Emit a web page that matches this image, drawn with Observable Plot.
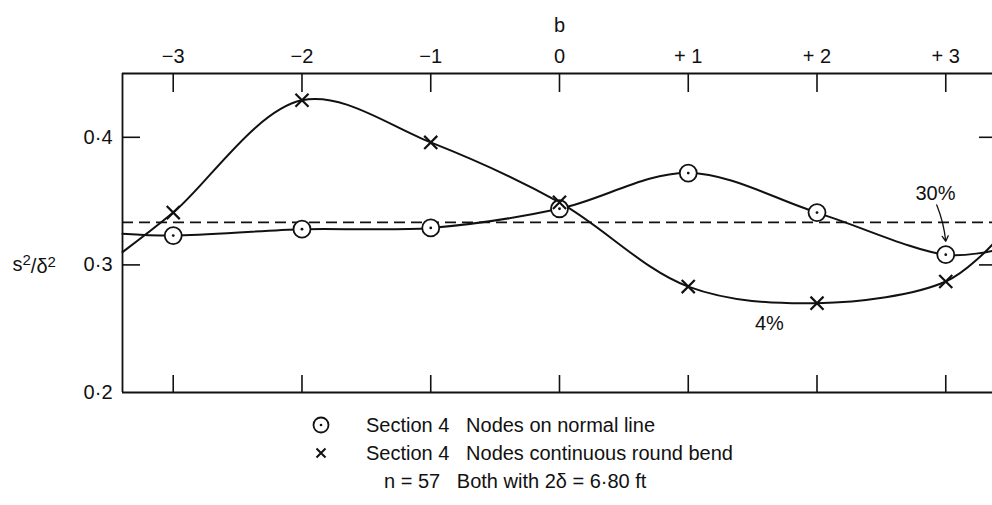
<!DOCTYPE html>
<html>
<head>
<meta charset="utf-8">
<script src="https://cdn.jsdelivr.net/npm/d3@7"></script>
<script src="https://cdn.jsdelivr.net/npm/@observablehq/plot@0.6"></script>
<style>
  body { margin: 0; background: #fff; font-family: "Liberation Sans", Arial, sans-serif; color: #111; }
  #chart { width: 992px; height: 400px; }
  #legend { position: relative; width: 992px; height: 105px; font-size: 20px; }
  #legend .sym { position: absolute; }
  #legend .txt { position: absolute; white-space: pre; line-height: 22px; }
</style>
</head>
<body>
<div id="chart"></div>
<div id="legend"></div>
<script>
// Offset b of the node from the section line
const bTicks = [-3, -2, -1, 0, 1, 2, 3];
const bTickLabels = ["−3", "−2", "−1", "0", "+ 1", "+ 2", "+ 3"];
const yTicks = [0.2, 0.3, 0.4];
const yTickLabels = ["0·2", "0·3", "0·4"];
const yTicksInner = [0.3, 0.4];

// s²/δ² for the two node layouts (one value per b)
const normalLine = [0.323, 0.328, 0.329, 0.344, 0.372, 0.341, 0.308];
const roundBend = [0.341, 0.429, 0.396, 0.349, 0.283, 0.270, 0.287];

// where the fitted curves meet the frame edges
const bEdges = [-3.394, 3.363];
const normalLineEdges = [0.3245, 0.311];
const roundBendEdges = [0.310, 0.316];

// uniform reference level
const uniformLevel = 1 / 3;

// percentage notes
const noteText = ["30%", "4%"];
const noteB = [2.92, 1.63];
const noteY = [0.356, 0.254];

const normalPts = bTicks.map((b, i) => ({b, v: normalLine[i]}));
const bendPts = bTicks.map((b, i) => ({b, v: roundBend[i]}));
const normalCurve = [{b: bEdges[0], v: normalLineEdges[0]}, ...normalPts, {b: bEdges[1], v: normalLineEdges[1]}];
const bendCurve = [{b: bEdges[0], v: roundBendEdges[0]}, ...bendPts, {b: bEdges[1], v: roundBendEdges[1]}];
const notes = noteText.map((t, i) => ({t, b: noteB[i], v: noteY[i]}));

const W = 992, H = 400, mL = 122, mR = 0, mT = 73, mB = 8;
const plotW = W - mL - mR, plotH = H - mT - mB;
const ink = "#111";
const fs = 20;

const chart = Plot.plot({
  width: W, height: H,
  marginLeft: mL, marginRight: mR, marginTop: mT, marginBottom: mB,
  x: {domain: bEdges},
  y: {domain: [0.2, 0.45]},
  style: {fontFamily: "Liberation Sans, Arial, sans-serif", fontSize: fs + "px", color: ink, background: "white", overflow: "visible"},
  marks: [
    // frame: left, top and bottom
    Plot.ruleX([bEdges[0]], {stroke: ink, strokeWidth: 1.8}),
    Plot.ruleY([0.2, 0.45], {stroke: ink, strokeWidth: 1.8}),
    // inward ticks
    Plot.tickX(bTicks, {x: d => d, insetBottom: plotH - 19, stroke: ink, strokeWidth: 1.6}),
    Plot.tickX(bTicks, {x: d => d, insetTop: plotH - 17, stroke: ink, strokeWidth: 1.6}),
    Plot.tickY(yTicksInner, {y: d => d, insetRight: plotW - 18, stroke: ink, strokeWidth: 1.6}),
    Plot.tickY(yTicksInner, {y: d => d, insetLeft: plotW - 13, stroke: ink, strokeWidth: 1.6}),
    Plot.axisX(bTicks, {anchor: "top", tickSize: 0, tickPadding: 11, fontSize: fs, tickFormat: d => bTickLabels[bTicks.indexOf(d)], label: null, fill: ink}),
    Plot.axisY(yTicks, {anchor: "left", tickSize: 0, tickPadding: 10, fontSize: fs, tickFormat: d => yTickLabels[yTicks.indexOf(d)], label: null, fill: ink}),
    Plot.text(["b"], {x: () => 0, frameAnchor: "top", lineAnchor: "middle", dy: -48, fontSize: fs, text: d => d, fill: ink}),
    Plot.text(["s²/δ²"], {y: () => 0.3, frameAnchor: "left", lineAnchor: "middle", dx: -110, textAnchor: "start", fontSize: fs, text: d => d, fill: ink, className: "ylabel"}),
    // uniform level
    Plot.ruleY([uniformLevel], {stroke: ink, strokeWidth: 1.6, strokeDasharray: "11,6"}),
    // fitted curves
    Plot.line(normalCurve, {x: "b", y: "v", curve: "catmull-rom", stroke: ink, strokeWidth: 2}),
    Plot.line(bendCurve, {x: "b", y: "v", curve: "catmull-rom", stroke: ink, strokeWidth: 2}),
    // node markers
    Plot.dot(normalPts, {x: "b", y: "v", r: 8.5, fill: "white", stroke: ink, strokeWidth: 1.8}),
    Plot.dot(normalPts, {x: "b", y: "v", r: 1.4, fill: ink}),
    Plot.dot(bendPts, {x: "b", y: "v", symbol: "times", r: 6, stroke: ink, strokeWidth: 2.2}),
    // notes
    Plot.text(notes, {x: "b", y: "v", text: "t", fontSize: fs, fill: ink}),
    Plot.arrow([notes[0]], {x1: d => d.b + 0.01, y1: d => d.v - 0.009, x2: () => bTicks[6], y2: () => normalLine[6] + 0.0105, bend: 8, headLength: 7, strokeWidth: 1.3, stroke: ink, insetStart: 0, insetEnd: 0})
  ]
});
document.getElementById("chart").appendChild(chart);

// set the y label with raised exponents
d3.select(chart).selectAll(".ylabel text").each(function () {
  const t = d3.select(this).text("");
  t.append("tspan").text("s");
  t.append("tspan").attr("dy", "-0.4em").attr("font-size", "15px").text("2");
  t.append("tspan").attr("dy", "0.4em").text("/δ");
  t.append("tspan").attr("dy", "-0.4em").attr("font-size", "15px").text("2");
});

// legend below the plot
const legendRows = [
  {sym: "circle", text: "Section 4   Nodes on normal line", x: 366, y: 25},
  {sym: "times", text: "Section 4   Nodes continuous round bend", x: 366, y: 53},
  {sym: null, text: "n = 57   Both with 2δ = 6·80 ft", x: 384, y: 81}
];
const legend = document.getElementById("legend");
for (const row of legendRows) {
  if (row.sym) {
    const s = d3.create("svg").attr("class", "sym").attr("width", 20).attr("height", 20)
      .style("left", "311px").style("top", (row.y - 10) + "px");
    if (row.sym === "circle") {
      s.append("circle").attr("cx", 10).attr("cy", 10).attr("r", 7.5).attr("fill", "none").attr("stroke", ink).attr("stroke-width", 1.8);
      s.append("circle").attr("cx", 10).attr("cy", 10).attr("r", 1.3).attr("fill", ink);
    } else {
      s.append("path").attr("d", "M5.5,5.5L14.5,14.5M14.5,5.5L5.5,14.5").attr("stroke", ink).attr("stroke-width", 2);
    }
    legend.appendChild(s.node());
  }
  const t = document.createElement("div");
  t.className = "txt";
  t.textContent = row.text;
  t.style.left = row.x + "px";
  t.style.top = (row.y - 11) + "px";
  legend.appendChild(t);
}
</script>
</body>
</html>
